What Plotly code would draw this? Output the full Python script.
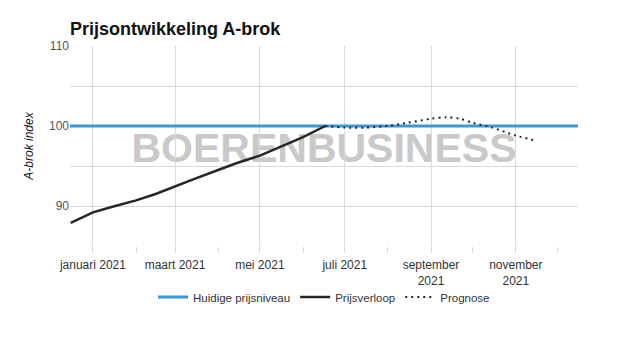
import plotly.graph_objects as go

# Data
hist_dates = ["2020-12-16", "2021-01-01", "2021-01-15", "2021-02-01", "2021-02-15",
              "2021-03-01", "2021-03-15", "2021-04-01", "2021-04-15", "2021-05-01",
              "2021-05-15", "2021-06-01", "2021-06-17"]
hist_values = [87.9, 89.2, 89.9, 90.7, 91.5, 92.5, 93.4, 94.5, 95.4, 96.3, 97.3, 98.6, 100.0]

prog_dates = ["2021-06-17", "2021-07-01", "2021-07-15", "2021-08-01", "2021-08-15",
              "2021-09-01", "2021-09-12", "2021-09-22", "2021-10-01", "2021-10-15",
              "2021-11-01", "2021-11-15"]
prog_values = [100.0, 99.8, 99.8, 100.0, 100.4, 100.9, 101.1, 100.9, 100.4, 99.8, 98.8, 98.2]

level_dates = ["2020-12-15 12:00", "2021-12-15 16:00"]
level_values = [100, 100]

tick_vals = ["2021-01-01", "2021-03-01", "2021-05-01", "2021-07-01", "2021-09-01", "2021-11-01"]
tick_text = ["januari 2021", "maart 2021", "mei 2021", "juli 2021", "september<br>2021", "november<br>2021"]

FONT = "Liberation Sans"
GRID = "#dadada"

fig = go.Figure()
fig.add_trace(go.Scatter(x=level_dates, y=level_values, mode="lines", name="Huidige prijsniveau",
                         line=dict(color="#3a98d6", width=3)))
fig.add_trace(go.Scatter(x=hist_dates, y=hist_values, mode="lines", name="Prijsverloop",
                         line=dict(color="#262626", width=2.5)))
fig.add_trace(go.Scatter(x=prog_dates, y=prog_values, mode="lines", name="Prognose",
                         line=dict(color="#262626", width=2, dash="2px,4px", shape="spline", smoothing=0.8)))

fig.add_shape(type="rect", xref="paper", yref="paper", x0=0.0, x1=1.0, y0=0.36, y1=0.66,
              line=dict(width=0), fillcolor="rgba(0,0,0,0)", layer="below",
              label=dict(text="BOERENBUSINESS", textposition="middle center",
                         font=dict(family=FONT, size=41, color="#c9c9c9", weight="bold")))

fig.update_layout(
    width=625, height=350,
    margin=dict(l=70, r=47, t=46, b=104),
    paper_bgcolor="white", plot_bgcolor="white",
    font=dict(family=FONT, size=11, color="#444"),
    title=dict(text="<b>Prijsontwikkeling A-brok</b>", x=70/625, xanchor="left",
               y=1 - 29/350, yanchor="middle",
               font=dict(family=FONT, size=18, color="#111")),
    showlegend=True,
    legend=dict(orientation="h", x=0.5, xanchor="center", y=-0.255, yanchor="middle",
                bgcolor="rgba(0,0,0,0)", font=dict(size=11.5, color="#333"), itemwidth=30),
    xaxis=dict(range=["2020-12-15 12:00", "2021-12-15 16:00"], tickmode="array",
               tickvals=tick_vals, ticktext=tick_text, showgrid=True, gridcolor=GRID,
               ticks="outside", ticklen=6, tickcolor=GRID, showline=False, zeroline=False,
               ticklabelstandoff=2,
               tickfont=dict(size=12, color="#333"),
               minor=dict(ticks="outside", ticklen=6, tickcolor=GRID, dtick="M1",
                          tick0="2021-01-01", showgrid=False)),
    yaxis=dict(range=[85, 110], tickvals=[90, 100, 110], showgrid=True, gridcolor=GRID,
               zeroline=False, showline=False, ticks="", tickfont=dict(size=12, color="#555"),
               title=dict(text="<i>A-brok index</i>", font=dict(size=12, color="#111"), standoff=12),
               minor=dict(tickvals=[85, 95, 105], showgrid=True, gridcolor=GRID)),
)

fig.write_html("out.html")
